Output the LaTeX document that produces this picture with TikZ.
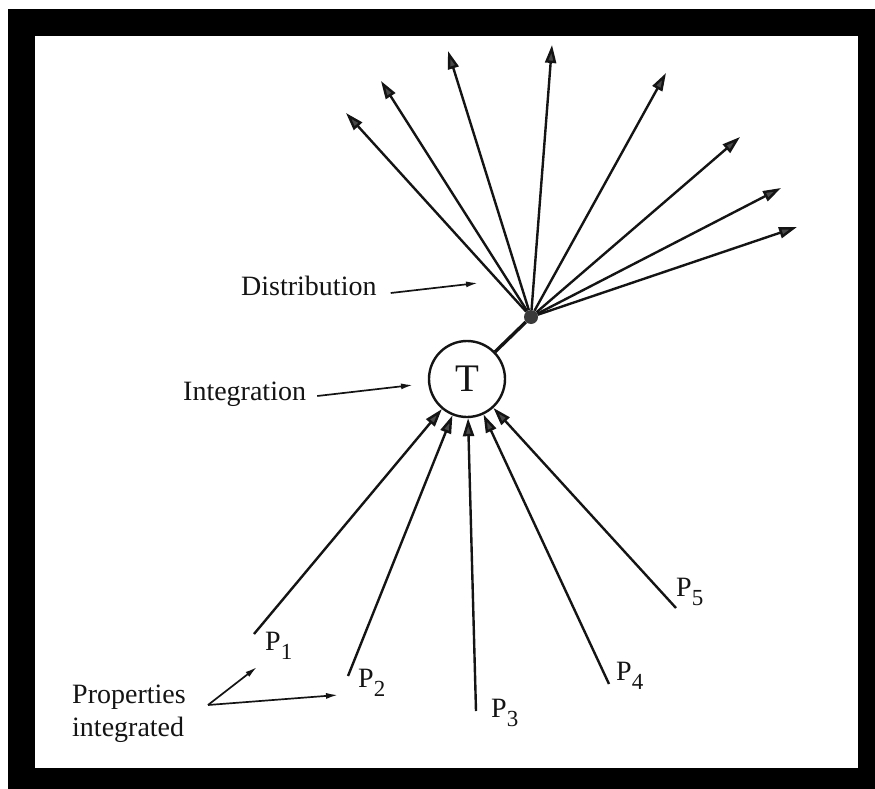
\documentclass[tikz,border=0pt]{standalone}
\usepackage{fontspec}
\setmainfont{Liberation Serif}
\usetikzlibrary{arrows.meta}
\definecolor{ink}{RGB}{20,20,20}
\definecolor{headgray}{RGB}{72,72,72}
\definecolor{hubgray}{RGB}{58,58,58}
\tikzset{
  ring/.style={draw=ink, circle, minimum size=76pt, inner sep=0pt, line width=2.4pt,
    font=\fontsize{39}{39}\selectfont, text=ink},
  hub/.style={circle, fill=hubgray, minimum size=14pt, inner sep=0pt},
  flow/.style={-{Triangle[length=18pt, width=11pt, fill=headgray]}, line width=2.4pt, draw=ink},
  flow2/.style={-{Latex[length=12pt, width=6pt]}, line width=1.7pt, draw=ink},
  lbl/.style={inner sep=0pt, font=\fontsize{28}{33}\selectfont, text=ink},
  link/.style={line width=3.4pt, draw=ink},
}
\newcommand{\psub}[1]{P\raisebox{-9pt}{\fontsize{23}{23}\selectfont #1}}

\begin{document}
\begin{tikzpicture}[x=1pt, y=-1pt]
  \useasboundingbox (0,0) rectangle (875,789);
  % frame
  \fill[black] (8,9) rectangle (875,789);
  \fill[white] (35,36) rectangle (858,768);
  % integration point and distribution hub
  \node[ring] (T) at (467,379) {T};
  \node[hub] (hub) at (531,317) {};
  \draw[link] (T) -- (hub);
  \foreach \x/\y [count=\i] in {346/113, 381/81, 448/51, 552/45, 666/73, 740/137, 781/188, 797/227}{
    \coordinate (d\i) at (\x,\y);
    \draw[flow] (hub) -- (d\i);
  }
  % properties
  \foreach \i/\sx/\sy/\lx/\ly in {1/254/634/265/650, 2/348/676/358/687, 3/476/711/491/717,
      4/609/684/616/680, 5/676/608/676/596}{
    \coordinate (p\i) at (\sx,\sy);
    \node[lbl, anchor=base west] (pl\i) at (\lx,\ly) {\psub{\i}};
    \draw[flow] (p\i) -- (T);
  }
  % labels
  \node[lbl, anchor=base west] (dist) at (241,295) {Distribution};
  \coordinate (de) at (478,283);
  \draw[flow2] ([shift={(14,-2)}]dist.base east) -- (de);
  \node[lbl, anchor=base west] (integ) at (183,400) {Integration};
  \coordinate (ie) at (413,385);
  \draw[flow2] ([shift={(11,-4)}]integ.base east) -- (ie);
  \node[lbl, anchor=west, align=left] (prop) at (72,714) {Properties\\integrated};
  \coordinate (pa) at (208,705);
  \coordinate (pt1) at (257,667);
  \coordinate (pt2) at (338,695);
  \draw[flow2] (pa) -- (pt1);
  \draw[flow2] (pa) -- (pt2);
\end{tikzpicture}
\end{document}
